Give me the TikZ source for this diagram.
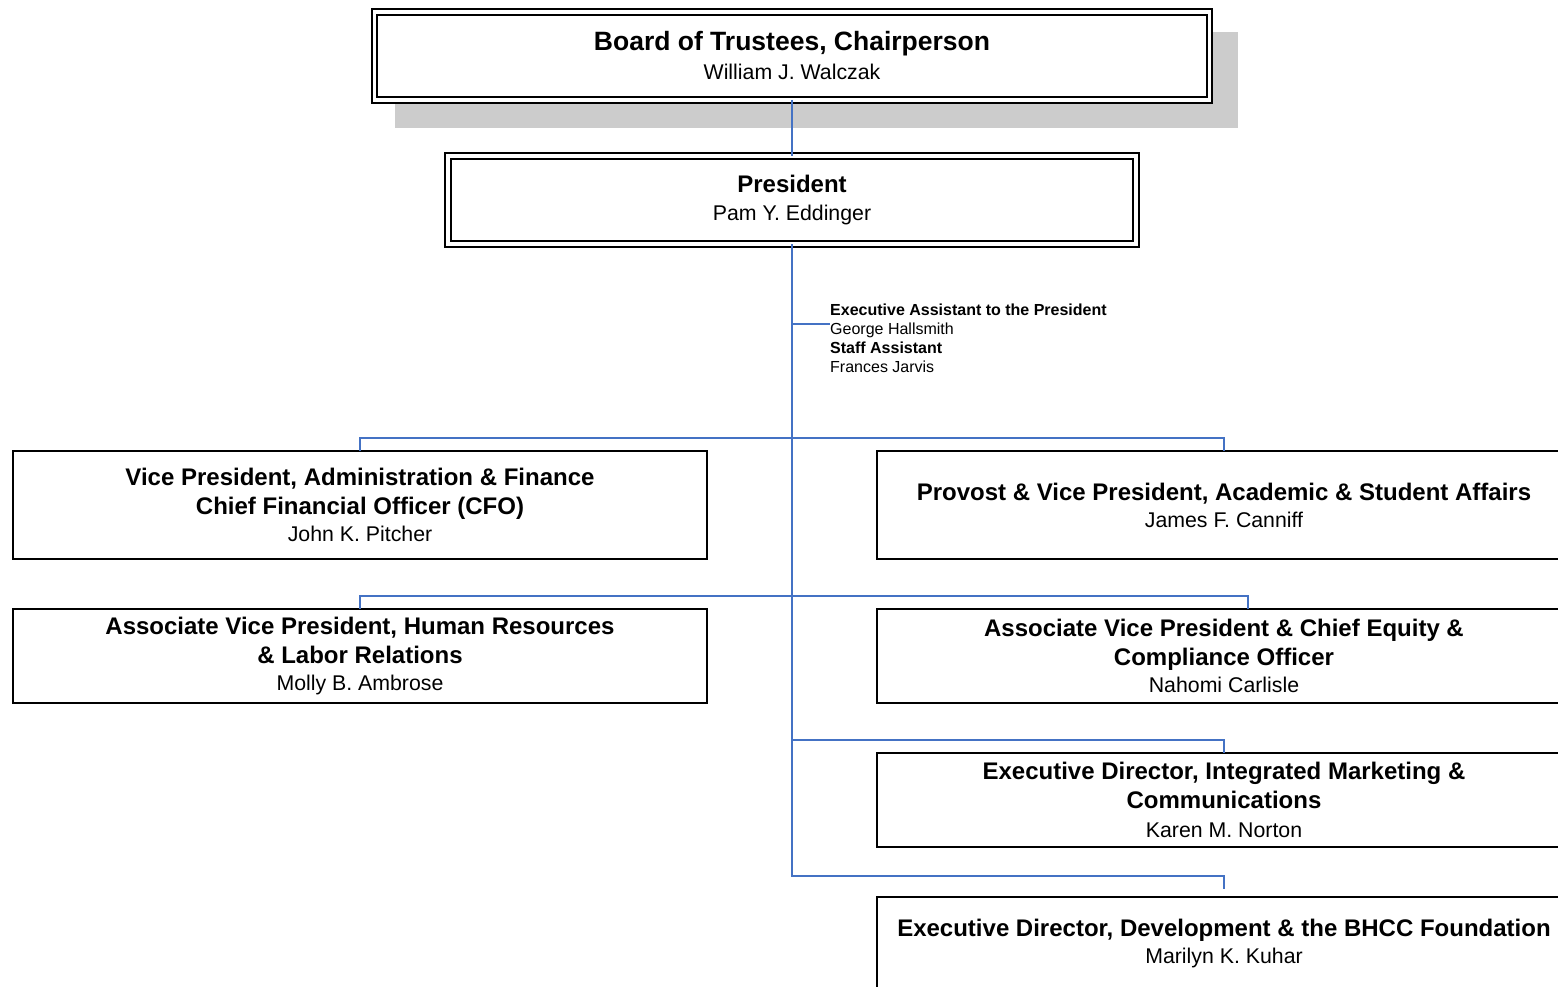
\documentclass[tikz,border=0pt]{standalone}
\usepackage{fontspec}
\setmainfont{Liberation Sans}
\usetikzlibrary{backgrounds}
\definecolor{orgblue}{RGB}{68,114,196}
\definecolor{shadowgray}{RGB}{204,204,204}
\newcommand{\titlefont}{\fontsize{24}{29}\selectfont\bfseries}
\newcommand{\namefont}{\fontsize{21.3}{26}\selectfont\mdseries}
\newcommand{\notefont}{\fontsize{16}{19}\selectfont}
\tikzset{
  post/.style={draw, line width=2pt, fill=white, minimum width=694, minimum height=94, align=center, inner sep=0pt, outer sep=0pt, font=\titlefont},
  chair/.style={post, double, line width=2.1pt, double distance=3.4pt},
  wire/.style={draw=orgblue, line width=2pt}
}

\begin{document}
\begin{tikzpicture}[x=1pt, y=-1pt]
\useasboundingbox (0,0) rectangle (1558,987);
\clip (0,0) rectangle (1558,987);
\node[chair, minimum width=835, minimum height=88, font=\fontsize{26.5}{29}\selectfont\bfseries] (board) at (792,56) {Board of Trustees, Chairperson\\{\namefont William J. Walczak}};
\node[chair, minimum width=688, minimum height=88] (pres) at (792,200) {President\\[-1pt]{\namefont Pam Y. Eddinger}};
\node[anchor=north west, align=left, inner sep=0pt, font=\notefont] (asst) at (830,304) {\textbf{Executive Assistant to the President}\\George Hallsmith\\\textbf{Staff Assistant}\\Frances Jarvis};
\node[post, minimum height=108] (vpaf) at (360,505) {Vice President, Administration \& Finance\\Chief Financial Officer (CFO)\\[-2pt]{\namefont John K. Pitcher}};
\node[post, minimum height=108] (provost) at (1224,505) {Provost \& Vice President, Academic \& Student Affairs\\[-2pt]{\namefont James F. Canniff}};
\node[post] (avphr) at (360,656) {Associate Vice President, Human Resources\\\& Labor Relations\\[-2pt]{\namefont Molly B. Ambrose}};
\node[post] (equity) at (1224,656) {Associate Vice President \& Chief Equity \&\\Compliance Officer\\[-2pt]{\namefont Nahomi Carlisle}};
\node[post] (imc) at (1224,800) {Executive Director, Integrated Marketing \&\\Communications\\{\namefont Karen M. Norton}};
\node[post] (found) at (1224,944) {Executive Director, Development \& the BHCC Foundation\\[-2pt]{\namefont Marilyn K. Kuhar}};
\begin{pgfonlayer}{background}
\fill[shadowgray] ([shift={(20,20)}]board.north west) rectangle ([shift={(28,28)}]board.south east);
\end{pgfonlayer}
\coordinate (hub) at (792,324);
\coordinate (bus1) at (792,438);
\coordinate (bus2) at (792,596);
\coordinate (bus3) at (792,740);
\coordinate (bus4) at (792,876);
\draw[wire] (board.south) -- (pres.north);
\draw[wire] (pres.south) -- (bus4) -| ([yshift=8]found.north);
\draw[wire] (hub) -- (asst.west |- hub);
\draw[wire] (vpaf.north) |- (bus1) -| (provost.north);
\draw[wire] (avphr.north) |- (bus2) -| ([xshift=24]equity.north);
\draw[wire] (bus3) -| (imc.north);
\end{tikzpicture}
\end{document}
